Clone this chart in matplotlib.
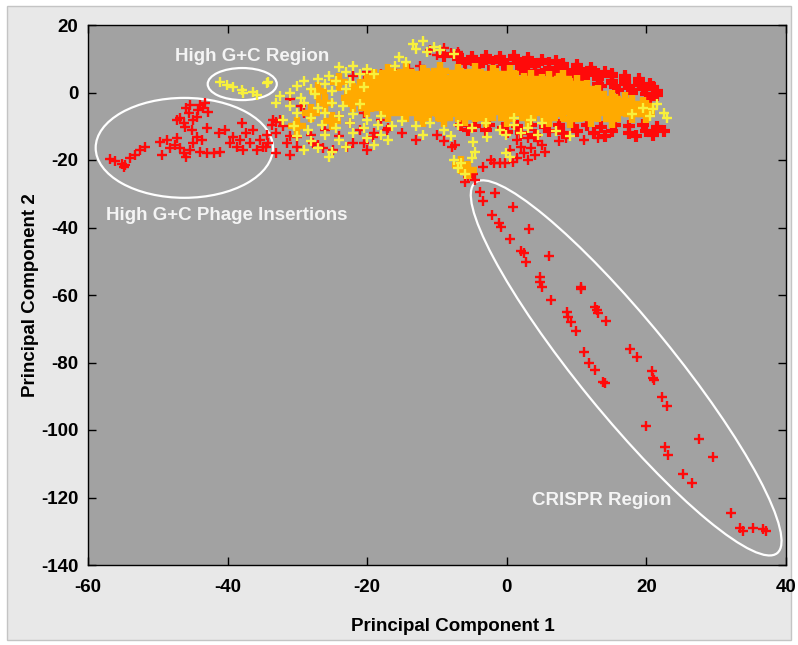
import matplotlib
matplotlib.use("Agg")
import matplotlib.pyplot as plt
from matplotlib.patches import Ellipse, Rectangle
from matplotlib.transforms import Affine2D

plt.rcParams["font.family"] = ["Liberation Sans", "DejaVu Sans"]
plt.rcParams["axes.unicode_minus"] = False

# --- data (PC1, PC2) ---
red_crispr = [
    (-3.9, -29.4), (-1.7, -29.7), (-3.4, -32.1), (0.9, -34.0), (-2.1, -36.3),
    (-1.1, -38.8), (-0.9, -39.8), (3.2, -40.5), (0.4, -43.4), (2.0, -47.0),
    (2.4, -47.6), (2.8, -50.1), (6.1, -48.4), (4.7, -54.6), (4.8, -56.1),
    (5.0, -57.5), (10.6, -57.5), (10.6, -58.1), (6.4, -61.5), (12.6, -63.5),
    (12.9, -64.4), (13.1, -65.4), (8.6, -64.9), (8.8, -66.4), (9.2, -67.9),
    (9.9, -70.6), (14.2, -67.6), (17.7, -76.0), (18.7, -78.5), (11.1, -77.0),
    (11.8, -80.1), (12.6, -82.2), (13.8, -85.7), (14.1, -86.2), (20.8, -82.5),
    (20.9, -84.7), (21.1, -85.2), (22.3, -90.1), (23.0, -92.9), (19.9, -98.8),
    (27.6, -102.8), (22.7, -105.1), (23.1, -107.4), (29.6, -107.9), (25.3, -113.0),
    (26.6, -115.8), (32.1, -124.7), (33.4, -129.1), (33.9, -129.8), (35.3, -129.1),
    (36.7, -129.4), (37.2, -129.8),
]

red_phage = [
    (-56.8, -19.8), (-56.1, -20.2), (-55.2, -21.2), (-54.9, -22.2), (-54.7, -21.5),
    (-54.0, -19.5), (-53.3, -18.5), (-52.6, -17.0), (-51.8, -16.0), (-49.7, -14.6),
    (-49.4, -18.5), (-48.7, -14.1), (-48.3, -16.5), (-47.5, -15.6), (-47.3, -8.1),
    (-46.8, -7.6), (-46.3, -9.1), (-46.1, -10.1), (-45.9, -4.7), (-45.6, -6.2),
    (-45.4, -3.7), (-45.1, -11.1), (-44.9, -8.1), (-44.4, -7.2), (-44.2, -5.2),
    (-44.0, -3.7), (-43.7, -14.1), (-43.5, -4.7), (-43.2, -3.2), (-43.0, -10.6),
    (-42.8, -5.7), (-47.3, -13.6), (-46.8, -16.5), (-46.3, -18.0), (-45.9, -19.0),
    (-45.4, -17.0), (-44.9, -15.1), (-44.4, -13.1), (-44.0, -17.5), (-43.0, -18.0),
    (-42.0, -18.0), (-41.3, -12.1), (-41.1, -17.5), (-40.4, -11.1), (-39.7, -15.1),
    (-39.2, -13.1), (-38.7, -16.1), (-38.2, -14.1), (-38.0, -9.1), (-37.8, -17.0),
    (-37.3, -12.1), (-36.8, -15.1), (-36.3, -11.1), (-35.8, -17.0), (-35.4, -14.1),
    (-34.9, -16.1), (-34.4, -12.6), (-34.2, -15.1), (-33.7, -9.6), (-33.0, -8.6),
    (-31.1, -18.5), (-32.5, -8.1), (-33.0, -12.1), (-31.5, -15.1), (-30.1, -13.1),
    (-27.7, -15.1), (-26.3, -16.5), (-24.9, -17.0), (-22.9, -16.0), (-20.5, -15.1),
    (-19.1, -13.1), (-17.2, -11.1),
]

red_cloud = [
    (-11, 12.5), (-9, 13.2), (-7, 12.1), (-10, 11.0), (-8, 11.6),
    (-22, 5.0), (-20, 6.0), (-18, 5.5), (-16, 6.6), (-14, 7.1), (-12.5, 8.0),
    (-20.5, 3.5), (-17, 4.0),
    # left, mixed with yellow
    (-31, -2.0), (-29.5, -4.0), (-29, -6.0), (-33.5, -8.0), (-32, -10.0),
    (-24, -7.0), (-22.5, -9.0), (-26, -11.0), (-28, -12.5), (-31, -13.0),
    (-24, -13.0), (-21, -11.0), (-19, -12.0), (-17, -10.5), (-15, -12.0),
    (-27, -15.5), (-22, -15.0), (-20, -17.0), (-30, -16.0), (-33, -18.0),
    (-34.5, -16.0), (-13, -14.0), (-10, -12.5), (-18, -8.0), (-20.5, -6.0),
    # small clusters below the cloud
    (13, -13.5), (11, -14.0), (8.5, -13.5),
    (1.5, -14.0), (3, -13.5), (4.5, -14.5), (2, -16.0), (3.5, -16.5), (5, -15.5),
    (2.5, -18.0), (4, -18.5), (5.5, -17.5), (1.5, -19.5), (3, -20.0), (0.5, -17.0),
    (-7.9, -16.0), (-7.4, -15.6), (-3.4, -22.0), (-2.2, -20.0), (-1.9, -21.0),
    (-1.0, -21.0), (-0.3, -21.0), (0.9, -20.5), (-9, -14.5), (7.5, -14.5),
    (-6, -22.5), (-5, -23.5), (-5.5, -25.0), (-4.5, -26.0), (-6, -26.5), (-4.8, -24.0),
]

# dense red bands above and below the orange core
red_band = [
    (-9, 10.8), (-7, 11.1), (-5, 10.6), (-3, 10.9), (-1, 10.5), (1, 10.8), (3, 10.2),
    (-7, 9.8), (-5, 9.6), (-3, 9.9), (-1, 9.5), (1, 9.8), (3, 9.4), (5, 9.6), (7, 9.2),
    (-6, 8.8), (-4, 8.6), (-2, 8.9), (0, 8.5), (2, 8.8), (4, 8.4), (6, 8.7), (8, 8.3), (10, 8.1),
    (-4, 7.8), (-2, 7.6), (0, 7.9), (2, 7.5), (4, 7.8), (6, 7.4), (8, 7.7), (10, 7.3), (12, 7.2),
    (-2, 6.8), (0, 6.6), (2, 6.9), (4, 6.5), (6, 6.8), (8, 6.4), (10, 6.7), (12, 6.3), (14, 6.1),
    (3, 5.8), (5, 5.6), (7, 5.9), (9, 5.5), (11, 5.8), (13, 5.4), (15, 5.6), (17, 5.0),
    (7, 4.8), (9, 4.6), (11, 4.9), (13, 4.5), (15, 4.8), (17, 4.4), (19, 3.9),
    (9, 3.8), (11, 3.6), (13, 3.9), (15, 3.5), (17, 3.8), (19, 3.0),
    (11, 2.8), (13, 2.6), (15, 2.9), (17, 2.5), (19, 2.2), (20.5, 2.6),
    (13.5, 1.8), (15.5, 1.6), (17.5, 1.9), (19.5, 1.3), (21, 1.7),
    (16, 0.8), (18, 0.6), (20, 0.9), (21.5, 0.4),
    (18, -0.2), (20, -0.5), (21.5, -0.8), (20.5, -1.8),
    (-6.5, -9.5), (-4.5, -10.0), (-2.5, -9.6), (-0.5, -10.5), (1.5, -10.0),
    (3.5, -9.5), (5.5, -10.1), (7.5, -9.5), (9.5, -10.0), (11.5, -9.6),
    (13.5, -10.1), (15.5, -9.5), (17.5, -10.0), (19.5, -9.5), (21.5, -10.1),
    (22.5, -11.5), (20, -11.5), (17.5, -12.0), (15, -11.5), (12.5, -12.1),
    (10, -11.5), (8, -12.0), (6, -11.5), (4, -12.5), (2, -12.0), (0, -11.6),
    (-3, -11.2), (-5.5, -11.0), (14, -13.0), (18.5, -12.8), (21, -12.6),
]

orange_cloud = [
    (-17, 5.8), (-14.5, 6.2), (-12, 5.6), (-9.5, 6.3), (-7, 5.7), (-4.5, 6.1), (-2, 5.5), (0.5, 5.4),
    (-19, 4.4), (-16.5, 4.6), (-14, 4.2), (-11.5, 4.7), (-9, 4.3), (-6.5, 4.6), (-4, 4.2),
    (-1.5, 4.5), (1, 4.1), (3.5, 4.0), (6, 3.7), (8, 3.9),
    (-20, 3.0), (-17.5, 2.8), (-15, 3.2), (-12.5, 2.9), (-10, 3.1), (-7.5, 2.7), (-5, 3.0),
    (-2.5, 3.2), (0, 2.8), (2.5, 3.0), (5, 2.7), (7.5, 3.1), (10, 2.4),
    (-21, 1.4), (-18.5, 1.6), (-16, 1.3), (-13.5, 1.7), (-11, 1.4), (-8.5, 1.6), (-6, 1.3),
    (-3.5, 1.5), (-1, 1.7), (1.5, 1.4), (4, 1.6), (6.5, 1.3), (9, 1.5), (11.5, 1.0),
    (-22, 0.1), (-19.5, -0.2), (-17, 0.2), (-14.5, -0.1), (-12, 0.1), (-9.5, -0.2), (-7, 0.2),
    (-4.5, 0.0), (-2, -0.1), (0.5, 0.2), (3, -0.1), (5.5, 0.1), (8, -0.2), (10.5, 0.0), (13, -0.5),
    (-22.5, -1.5), (-20, -1.3), (-17.5, -1.6), (-15, -1.4), (-12.5, -1.7), (-10, -1.4),
    (-7.5, -1.6), (-5, -1.3), (-2.5, -1.5), (0, -1.7), (2.5, -1.4), (5, -1.6), (7.5, -1.3),
    (10, -1.5), (12.5, -1.7), (15, -1.9), (17, -2.6),
    (-22, -3.0), (-19.5, -3.2), (-17, -2.9), (-14.5, -3.1), (-12, -3.0), (-9.5, -3.2),
    (-7, -2.9), (-4.5, -3.1), (-2, -3.0), (0.5, -3.2), (3, -2.9), (5.5, -3.1), (8, -3.0),
    (10.5, -3.2), (13, -2.9), (15.5, -3.1), (18, -3.4), (19.5, -3.9),
    (-20, -4.5), (-17.5, -4.7), (-15, -4.4), (-12.5, -4.6), (-10, -4.5), (-7.5, -4.7),
    (-5, -4.4), (-2.5, -4.6), (0, -4.5), (2.5, -4.7), (5, -4.4), (7.5, -4.6), (10, -4.5),
    (12.5, -4.7), (15, -4.4), (17.5, -4.6), (20, -4.8),
    (-17, -6.0), (-14.5, -6.2), (-12, -5.9), (-9.5, -6.1), (-7, -6.0), (-4.5, -6.2),
    (-2, -5.9), (0.5, -6.1), (3, -6.0), (5.5, -6.2), (8, -5.9), (10.5, -6.1), (13, -6.0),
    (15.5, -6.2), (18, -6.3), (20, -6.5),
    (-12, -7.5), (-9, -7.7), (-6, -7.4), (-3, -7.6), (0, -7.5), (3, -7.7), (6, -7.5),
    (9, -7.8), (12, -7.6), (15, -7.9),
    (-26, -3.0), (-28, -6.0), (-24, 3.0), (-30, -10.0), (-25, -8.5), (-27, 0.5),
    (-6.5, -21.5), (-5.5, -23.0),
]

yellow_cloud = [
    # top flag
    (-13.5, 14.5), (-12, 15.2), (-10.5, 13.5), (-11.5, 12.0), (-13, 13.0),
    (-9.5, 12.5), (-15.5, 10.5), (-14.5, 9.0), (-16, 8.0), (-7.5, 11.5),
    # upper left
    (-24, 7.5), (-22, 8.0), (-20, 7.0), (-23, 6.0), (-21, 5.5), (-19, 5.5),
    (-25.5, 5.0), (-27, 4.0), (-29, 3.5), (-30, 2.0), (-28, 1.0), (-26, 2.5),
    (-24.5, 3.5), (-22.5, 3.0), (-31, 0.0), (-32.5, -1.0), (-29.5, -1.5),
    (-27.5, -0.5), (-25, 0.5), (-23, 1.0), (-20.5, 1.5),
    # middle left
    (-33, -3.0), (-31, -4.0), (-29, -3.0), (-27, -4.5), (-25, -3.0), (-23.5, -4.0),
    (-21, -3.5), (-30, -6.0), (-28, -7.5), (-26, -6.0), (-24, -7.0), (-22, -6.5),
    (-20, -8.0), (-18, -7.0), (-32, -8.0), (-30.5, -10.0), (-28.5, -11.0),
    (-26.5, -9.5), (-24.5, -10.5), (-22.5, -9.0), (-20.5, -10.5), (-18.5, -9.5),
    (-16.5, -10.0),
    # lower left
    (-30, -13.0), (-28, -14.5), (-26, -12.5), (-24, -14.0), (-22, -12.0),
    (-20, -13.5), (-18, -12.5), (-29, -17.0), (-27, -16.5), (-25, -17.5),
    (-23, -16.0), (-19, -15.5), (-17, -14.0), (-25.5, -19.0),
    # under the core
    (-15, -8.5), (-13, -10.0), (-11, -9.0), (-9, -11.0), (-7, -9.5), (-5, -10.5),
    (-3, -9.0), (-1, -11.0), (1, -9.5), (3, -10.5), (5, -9.0), (-12, -12.5),
    (-8, -13.0), (-4.8, -14.6), (-2.9, -13.1), (-0.1, -12.6), (2, -12.0),
    (4.5, -12.5), (-4.6, -17.5), (-0.1, -18.0), (0.5, -19.0), (7, -11.5),
    (9, -13.0), (1, -7.5), (3.5, -8.0),
    (-7.5, -20.0), (-6.5, -21.0), (-7, -22.5), (-6, -24.0), (-5, -19.5),
    # right tip
    (19.5, -4.5), (21, -5.0), (22.5, -6.0), (20.5, -7.0), (23, -7.5), (18, -6.5), (21.5, -3.5),
]

yellow_gc = [
    (-41.1, 3.2), (-40.1, 2.2), (-39.2, 1.7), (-38.0, 0.7), (-37.8, -0.2),
    (-36.3, 0.2), (-35.8, -0.7), (-34.4, 2.7), (-34.2, 3.2),
]

RED = "#ff0a0a"
ORANGE = "#ffaa00"
YELLOW = "#f8f03c"

fig = plt.figure(figsize=(7.98, 6.45), dpi=100, facecolor="white")
fig.patches.append(Rectangle((7 / 798, 5 / 645), 784 / 798, 634 / 645, transform=fig.transFigure,
                             fc="#e8e8e8", ec="#c4c4c4", lw=1, zorder=-10))
ax = fig.add_axes([88 / 798, 80 / 645, 698 / 798, 540 / 645])
ax.set_facecolor("#a2a2a2")


def pts(lst):
    return [p[0] for p in lst], [p[1] for p in lst]


small = dict(marker="+", ls="none", ms=6.5, mew=1.7)
for lst in (red_crispr, red_phage, red_cloud):
    x, y = pts(lst)
    ax.plot(x, y, color=RED, **small)
x, y = pts(red_band)
ax.plot(x, y, color=RED, marker="+", ls="none", ms=9, mew=3)
x, y = pts(orange_cloud)
ax.plot(x, y, color=ORANGE, marker="+", ls="none", ms=12.5, mew=4.6)
for lst in (yellow_cloud, yellow_gc):
    x, y = pts(lst)
    ax.plot(x, y, color=YELLOW, **small)

ax.set_xlim(-60, 40)
ax.set_ylim(-140, 20)
ax.set_xticks(range(-60, 41, 20))
ax.set_yticks(range(-140, 21, 20))

# ellipses
ell = dict(fill=False, ec="white", lw=1.6)
ax.add_patch(Ellipse((-46.2, -16.4), 25.4, 29.6, **ell))
ax.add_patch(Ellipse((-37.9, 2.5), 9.9, 9.5, **ell))
# CRISPR ellipse is defined in screen pixels (6.98 px per x unit, 3.375 px per y unit)
px2data = Affine2D().scale(1 / 6.98, -1 / 3.375).translate(17.1, -81.6)
ax.add_patch(Ellipse((0, 0), 478, 94, angle=50.8, transform=px2data + ax.transData, **ell))

txt = dict(color="#f4f4f4", fontsize=13.5, fontweight="bold", ha="center", va="center")
ax.text(-36.5, 10.8, "High G+C Region", **txt)
ax.text(-40.1, -36.3, "High G+C Phage Insertions", **txt)
ax.text(13.6, -121.0, "CRISPR Region", **txt)

ax.tick_params(direction="in", length=6, width=1, top=True, right=True,
               labelsize=13.5, colors="black")
ax.tick_params(axis="x", pad=10)
ax.tick_params(axis="y", pad=7)
for lab in ax.get_xticklabels() + ax.get_yticklabels():
    lab.set_fontweight("bold")
for s in ax.spines.values():
    s.set_linewidth(1)

ax.set_xlabel("Principal Component 1", fontsize=13.5, fontweight="bold")
ax.set_ylabel("Principal Component 2", fontsize=13.5, fontweight="bold")
ax.xaxis.set_label_coords(0.523, -0.114)
ax.yaxis.set_label_coords(-0.082, 0.5)
ax.xaxis.label.set_va("center")
ax.yaxis.label.set_va("center")

fig.savefig("out.png", dpi=100, facecolor=fig.get_facecolor())
